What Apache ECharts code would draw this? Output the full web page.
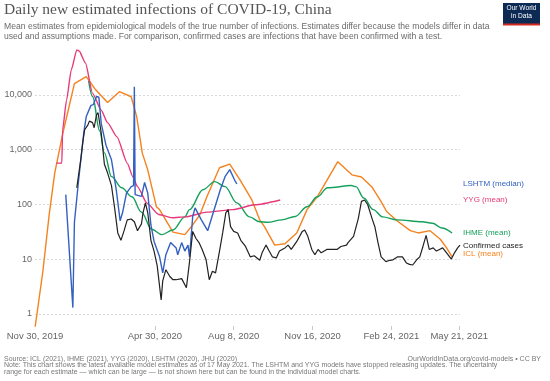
<!DOCTYPE html>
<html><head><meta charset="utf-8">
<script src="https://cdn.jsdelivr.net/npm/echarts@6/dist/echarts.min.js"></script>
<style>html,body{margin:0;padding:0;background:#fff}#c{width:550px;height:381px}</style>
</head><body><div id="c"></div>
<script>
// x-axis tick labels (dates)
const tickDates = ['2019-11-30','2020-04-30','2020-08-08','2020-11-16','2021-02-24','2021-05-21'];

// ICL (mean)
const iclDates = ['2019-11-30','2019-12-10','2019-12-18','2019-12-25','2020-01-04','2020-01-19','2020-02-03','2020-02-15','2020-03-01','2020-03-16','2020-03-31','2020-04-07','2020-04-14','2020-04-21','2020-05-02','2020-05-06','2020-05-23','2020-06-07','2020-06-17','2020-06-26','2020-07-05','2020-07-21','2020-08-03','2020-08-16','2020-08-31','2020-09-10','2020-09-16','2020-09-29','2020-10-12','2020-10-27','2020-11-09','2020-11-22','2020-12-18','2021-01-05','2021-01-17','2021-01-30','2021-02-10','2021-02-18','2021-03-03','2021-03-20','2021-03-30','2021-04-14','2021-04-27','2021-05-05','2021-05-12'];
const iclValues = [0.55,6,65,370,1900,16000,21500,12300,7200,11400,9200,4000,870,425,90,80,31,28,42,64,137,465,540,280,120,52,39,18,19,30,80,137,600,345,315,210,118,74,50,33,30,33,23,16,11];

// IHME (mean)
const ihmeDates = ['2020-02-06','2020-02-11','2020-02-20','2020-02-26','2020-03-06','2020-03-19','2020-04-01','2020-04-13','2020-04-26','2020-05-09','2020-05-23','2020-06-07','2020-06-13','2020-06-30','2020-07-15','2020-07-28','2020-08-12','2020-08-28','2020-09-10','2020-09-20','2020-10-08','2020-10-25','2020-11-09','2020-11-22','2020-12-05','2021-01-04','2021-01-10','2021-01-20','2021-02-01','2021-02-13','2021-03-03','2021-04-04','2021-04-17','2021-04-29','2021-05-12'];
const ihmeValues = [18000,9300,2200,870,320,200,137,72,35,28,34,59,80,185,260,210,106,59,48,47,52,60,90,137,200,220,210,130,80,59,52,48,45,37,30];

// YYG (mean)
const yygDates = ['2019-12-27','2020-01-03','2020-01-04','2020-01-09','2020-01-15','2020-01-22','2020-01-25','2020-02-02','2020-02-11','2020-02-22','2020-03-01','2020-03-13','2020-03-26','2020-04-02','2020-04-08','2020-04-20','2020-05-05','2020-05-22','2020-06-08','2020-07-05','2020-08-07','2020-09-04','2020-10-06'];
const yygValues = [565,565,2300,8000,28500,66000,63000,38000,10600,5200,3100,1700,565,320,210,105,65,57,59,72,80,98,120];

// LSHTM (median)
const lshtmDates = ['2020-01-08','2020-01-17','2020-01-19','2020-01-24','2020-01-31','2020-02-03','2020-02-09','2020-02-12','2020-02-16','2020-02-19','2020-02-22','2020-02-28','2020-03-06','2020-03-08','2020-03-12','2020-03-17','2020-03-20','2020-03-25','2020-03-31','2020-04-03','2020-04-04','2020-04-05','2020-04-13','2020-04-17','2020-04-21','2020-04-25','2020-04-29','2020-05-06','2020-05-10','2020-05-14','2020-05-20','2020-05-27','2020-05-29','2020-06-03','2020-06-07','2020-06-11','2020-06-13','2020-06-17','2020-06-20','2020-06-28','2020-07-06','2020-07-13','2020-07-22','2020-07-28','2020-08-03','2020-08-09','2020-08-12'];
const lshtmValues = [150,1.3,47,250,2100,4000,6400,6600,9300,9000,3000,1200,650,430,185,50,70,160,210,220,14000,150,140,250,160,42,21,11,5.6,12,20,16,12,20,14,18,11,60,86,52,33,70,185,320,430,280,235];

// Confirmed cases
const confDates = ['2020-01-22','2020-01-27','2020-01-30','2020-02-01','2020-02-05','2020-02-07','2020-02-11','2020-02-13','2020-02-16','2020-02-18','2020-02-22','2020-02-26','2020-03-01','2020-03-06','2020-03-10','2020-03-14','2020-03-18','2020-03-22','2020-03-26','2020-03-31','2020-04-04','2020-04-08','2020-04-13','2020-04-15','2020-04-18','2020-04-21','2020-04-25','2020-04-29','2020-05-03','2020-05-08','2020-05-10','2020-05-14','2020-05-19','2020-05-23','2020-05-27','2020-06-03','2020-06-09','2020-06-13','2020-06-17','2020-06-21','2020-06-25','2020-06-29','2020-07-04','2020-07-08','2020-07-12','2020-07-16','2020-07-21','2020-07-25','2020-07-29','2020-08-01','2020-08-04','2020-08-08','2020-08-13','2020-08-17','2020-08-23','2020-08-29','2020-09-03','2020-09-10','2020-09-13','2020-09-18','2020-09-22','2020-09-26','2020-10-01','2020-10-05','2020-10-12','2020-10-16','2020-10-20','2020-10-27','2020-11-03','2020-11-06','2020-11-10','2020-11-15','2020-11-19','2020-11-23','2020-11-27','2020-12-04','2020-12-10','2020-12-17','2020-12-22','2020-12-29','2020-12-31','2021-01-07','2021-01-13','2021-01-17','2021-01-21','2021-01-25','2021-01-27','2021-01-31','2021-02-03','2021-02-07','2021-02-11','2021-02-17','2021-02-22','2021-02-26','2021-03-04','2021-03-10','2021-03-15','2021-03-19','2021-03-23','2021-03-28','2021-04-01','2021-04-05','2021-04-09','2021-04-13','2021-04-18','2021-04-22','2021-04-26','2021-04-30','2021-05-05','2021-05-11','2021-05-15','2021-05-19','2021-05-22'];
const confValues = [200,650,1500,2300,2800,3300,3100,2500,4300,4700,2000,540,376,220,85,30,22,33,52,54,48,33,44,70,106,70,22,14,7.5,1.8,4,6.4,4.8,4.2,4.2,4.4,3,9,32,24,20,15,9.7,4.2,6,5.6,14,30,70,80,39,32,30,22,17,11,11.5,9.5,13,18,14,11,10.5,14,16,18,15,21,32,34,26,15,12,15,13,15,15,15,17,18,20,26,55,113,120,98,91,52,39,20,11,9,9.5,9.7,11,11,8.5,8,7.8,9.7,11,17,27,15,16,14,15,16,13,10,13,16,18];

const seriesNames = ['LSHTM (median)','YYG (mean)','IHME (mean)','Confirmed cases','ICL (mean)'];
const seriesColors = ['#3461c1','#e8397a','#15a05b','#222222','#f5821f'];

const MONTHS = ['Jan','Feb','Mar','Apr','May','Jun','Jul','Aug','Sep','Oct','Nov','Dec'];
function t(s){const p=s.split('-').map(Number);return Date.UTC(p[0],p[1]-1,p[2]);}
function pairs(d,v){return d.map((x,i)=>[t(x),v[i]]);}
function fmtDate(v){const d=new Date(v);return MONTHS[d.getUTCMonth()]+' '+d.getUTCDate()+', '+d.getUTCFullYear();}

const FONT = '"Liberation Sans", Arial, sans-serif';
const chart = echarts.init(document.getElementById('c'), null, {renderer:'canvas'});

function line(name, data, color, extra){
  return Object.assign({name, type:'line', data, symbol:'none', showSymbol:false, clip:true,
    lineStyle:{color, width:1.4}, itemStyle:{color}, emphasis:{disabled:true}}, extra||{});
}

const labelY = [184,200,233,246,254];
const graphics = [
  {type:'text', left:4, top:2, style:{text:'Daily new estimated infections of COVID-19, China', font:'15.5px "Liberation Serif", serif', fill:'#555'}},
  {type:'text', left:4, top:21, style:{text:'Mean estimates from epidemiological models of the true number of infections. Estimates differ because the models differ in data\nused and assumptions made. For comparison, confirmed cases are infections that have been confirmed with a test.', font:'8.6px '+FONT, fill:'#6a6a6a', lineHeight:10.5}},
  {type:'rect', shape:{x:503, y:3, width:37, height:22}, style:{fill:'#0d2a54'}},
  {type:'rect', shape:{x:503, y:23.5, width:37, height:2}, style:{fill:'#d42b21'}},
  {type:'text', x:521.5, y:8.5, style:{text:'Our World', font:'6.6px '+FONT, fill:'#fff', textAlign:'center', textVerticalAlign:'middle'}},
  {type:'text', x:521.5, y:16.5, style:{text:'in Data', font:'6.6px '+FONT, fill:'#fff', textAlign:'center', textVerticalAlign:'middle'}},
  {type:'text', left:4, top:355.5, style:{text:'Source: ICL (2021), IHME (2021), YYG (2020), LSHTM (2020), JHU (2020)', font:'7px '+FONT, fill:'#777'}},
  {type:'text', right:9, top:355.5, style:{text:'OurWorldInData.org/covid-models \u2022 CC BY', font:'7px '+FONT, fill:'#777'}},
  {type:'text', left:4, top:362, style:{text:'Note: This chart shows the latest available model estimates as of 17 May 2021. The LSHTM and YYG models have stopped releasing updates. The uncertainty\nrange for each estimate \u2014 which can be large \u2014 is not shown here but can be found in the individual model charts.', font:'7px '+FONT, fill:'#777', lineHeight:6.5}}
];
seriesNames.forEach((n,i)=>{
  graphics.push({type:'text', x:463, y:labelY[i], style:{text:n, font:'8px '+FONT, fill:seriesColors[i], textVerticalAlign:'middle'}});
});

chart.setOption({
  animation:false,
  backgroundColor:'#fff',
  grid:{left:35, right:90, top:40, bottom:55},
  xAxis:{type:'value', min:t('2019-11-30'), max:t('2021-05-22'),
    splitLine:{show:false}, axisLine:{show:false},
    axisTick:{show:true, customValues:tickDates.slice(1).map(t), length:4, lineStyle:{color:'#c8c8c8'}},
    axisLabel:{customValues:tickDates.map(t), formatter:v=>fmtDate(v), color:'#666', fontSize:9.5, fontFamily:FONT, margin:5, hideOverlap:false}},
  yAxis:{type:'log', logBase:10, min:0.6, max:100000,
    axisLine:{show:false}, axisTick:{show:false},
    splitLine:{show:true, showMinLine:false, showMaxLine:false, lineStyle:{color:'#d8d8d8', type:[2,2], width:1}},
    axisLabel:{formatter:v=>(v<0.99||v>=99999)?'':Math.round(v).toLocaleString('en-US'), color:'#666', fontSize:9, fontFamily:FONT, margin:3, showMinLabel:false, showMaxLabel:false}},
  series:[
    line(seriesNames[4], pairs(iclDates,iclValues), seriesColors[4]),
    line(seriesNames[2], pairs(ihmeDates,ihmeValues), seriesColors[2], {smooth:0.35, smoothMonotone:'x'}),
    line(seriesNames[1], pairs(yygDates,yygValues), seriesColors[1], {smooth:0.2, smoothMonotone:'x'}),
    line(seriesNames[0], pairs(lshtmDates,lshtmValues), seriesColors[0]),
    line(seriesNames[3], pairs(confDates,confValues), seriesColors[3], {lineStyle:{color:seriesColors[3], width:1.2}})
  ],
  graphic:graphics
});
</script></body></html>
